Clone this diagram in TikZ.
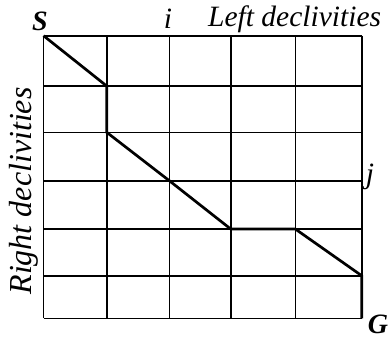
\documentclass[tikz,border=0pt]{standalone}
\usepackage{fontspec}
\setmainfont{Liberation Serif}
\usepackage{tikz}
\usetikzlibrary{positioning}

\tikzset{
  gridline/.style={black, line width=1.6pt},
  pathline/.style={black, line width=2.7pt, line join=miter},
  axislabel/.style={font=\fontsize{29.5}{31}\selectfont\itshape, inner sep=0pt},
  sidelabel/.style={font=\fontsize{32}{34}\selectfont\itshape, inner sep=0pt},
  endlabel/.style={font=\fontsize{28}{30}\selectfont\bfseries\itshape, inner sep=0pt},
}

\begin{document}
\begin{tikzpicture}[x=1pt,y=-1pt]
  \useasboundingbox (0,0) rectangle (388,340);
  % grid points: columns i = 0..5, rows j = 0..6 (measured positions)
  \foreach \cx/\px in {0/43.5,1/106.7,2/169.3,3/230.7,4/295.3,5/361.7} {
    \foreach \ry/\py in {0/35.7,1/86,2/132.3,3/180.7,4/229,5/275.7,6/318.3} {
      \coordinate (g-\cx-\ry) at (\px,\py);
    }
  }
  % grid lines
  \foreach \cx in {0,...,5} {
    \draw[gridline] (g-\cx-0) -- (g-\cx-6);
  }
  \foreach \ry in {0,...,6} {
    \draw[gridline] (g-0-\ry) -- (g-5-\ry);
  }
  % path from S to G
  \draw[pathline] (g-0-0) -- (g-1-1) -- (g-1-2) -- (g-2-3) -- (g-3-4)
    -- (g-4-4) -- (g-5-5) -- (g-5-6);
  % labels
  \node[endlabel, anchor=base] (lbS) at (40,30) {S};
  \node[endlabel, anchor=base] (lbG) at (378,333) {G};
  \node[axislabel, anchor=base] (lbi) at (168,28) {i};
  \node[axislabel, anchor=base] (lbj) at (370,183) {j};
  \node[axislabel, anchor=base west] (lbleft) at (208,26) {Left declivities};
  \node[sidelabel, anchor=base, rotate=90] (lbright) at (31,191) {Right declivities};
\end{tikzpicture}
\end{document}
